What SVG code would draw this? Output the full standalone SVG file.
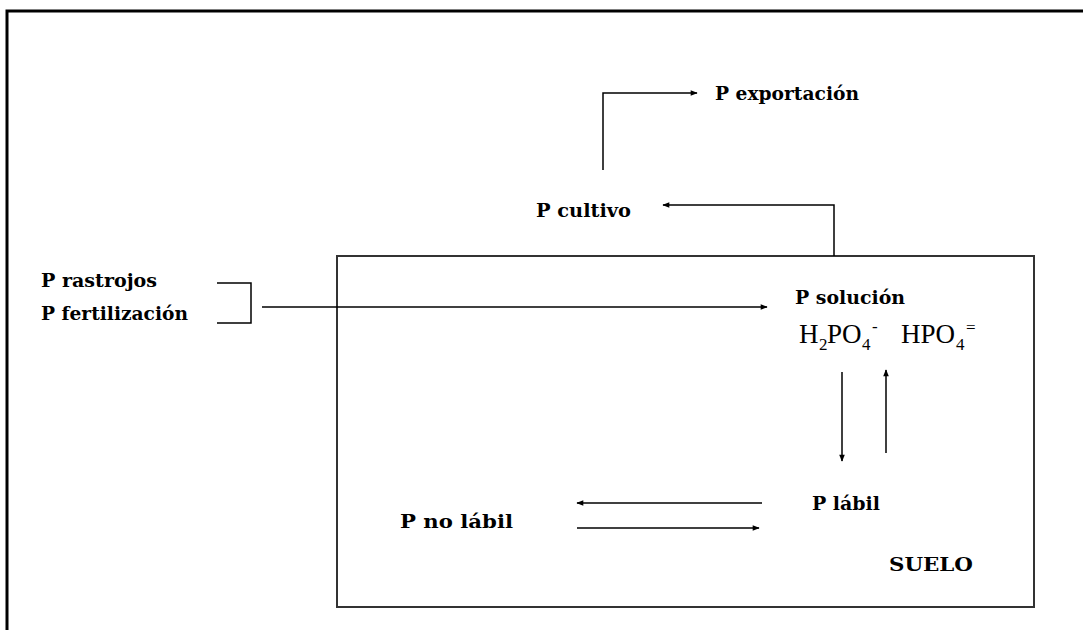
<svg xmlns="http://www.w3.org/2000/svg" width="1083" height="630" viewBox="0 0 1083 630">
<style>
.t{font-family:"DejaVu Serif","Liberation Serif",serif;font-weight:bold;font-size:18px;fill:#000}
.f{font-family:"Liberation Serif","Times New Roman",serif;font-size:27px;fill:#000}
.s{font-size:17px}
.c{fill:none;stroke:#000;stroke-width:1.5}
</style>
<defs>
<marker id="ah" viewBox="0 0 10 10" refX="9" refY="5" markerWidth="8" markerHeight="7" orient="auto" markerUnits="userSpaceOnUse">
<path d="M0,1 L10,5 L0,9 z" fill="#000"/>
</marker>
</defs>
<rect width="1083" height="630" fill="#fff"/>
<path d="M7,632 V11 H1090" fill="none" stroke="#000" stroke-width="3"/>
<g id="suelo">
<rect x="337" y="256" width="697" height="351" fill="none" stroke="#333" stroke-width="2"/>
<text class="t" x="889" y="571" textLength="84" lengthAdjust="spacingAndGlyphs">SUELO</text>
</g>
<g id="p-exportacion"><text class="t" x="715" y="100" textLength="144" lengthAdjust="spacingAndGlyphs">P exportación</text></g>
<g id="p-cultivo"><text class="t" x="536" y="217" textLength="95" lengthAdjust="spacingAndGlyphs">P cultivo</text></g>
<g id="p-rastrojos"><text class="t" x="41" y="287" textLength="116" lengthAdjust="spacingAndGlyphs">P rastrojos</text></g>
<g id="p-fertilizacion"><text class="t" x="41" y="320" textLength="147" lengthAdjust="spacingAndGlyphs">P fertilización</text></g>
<g id="p-solucion">
<text class="t" x="795" y="304" textLength="110" lengthAdjust="spacingAndGlyphs">P solución</text>
<text class="f" y="343"><tspan x="799">H</tspan><tspan class="s" x="819" y="350">2</tspan><tspan x="827" y="343">PO</tspan><tspan class="s" x="862" y="350">4</tspan><tspan class="s" x="872" y="332">-</tspan><tspan x="901" y="343">HPO</tspan><tspan class="s" x="956" y="350">4</tspan><tspan class="s" x="966" y="333">=</tspan></text>
</g>
<g id="p-labil"><text class="t" x="812" y="510" textLength="68" lengthAdjust="spacingAndGlyphs">P lábil</text></g>
<g id="p-no-labil"><text class="t" x="400" y="528" textLength="113" lengthAdjust="spacingAndGlyphs">P no lábil</text></g>
<g id="connectors">
<path class="c" d="M603,170 V93 H697" marker-end="url(#ah)"/>
<path class="c" d="M834,256 V205 H663" marker-end="url(#ah)"/>
<path class="c" d="M217,283 H251 V323 H217"/>
<path class="c" d="M262,307 H767" marker-end="url(#ah)"/>
<path class="c" d="M842,372 V461" marker-end="url(#ah)"/>
<path class="c" d="M886,453 V370" marker-end="url(#ah)"/>
<path class="c" d="M762,503 H577" marker-end="url(#ah)"/>
<path class="c" d="M577,528 H759" marker-end="url(#ah)"/>
</g>
</svg>
